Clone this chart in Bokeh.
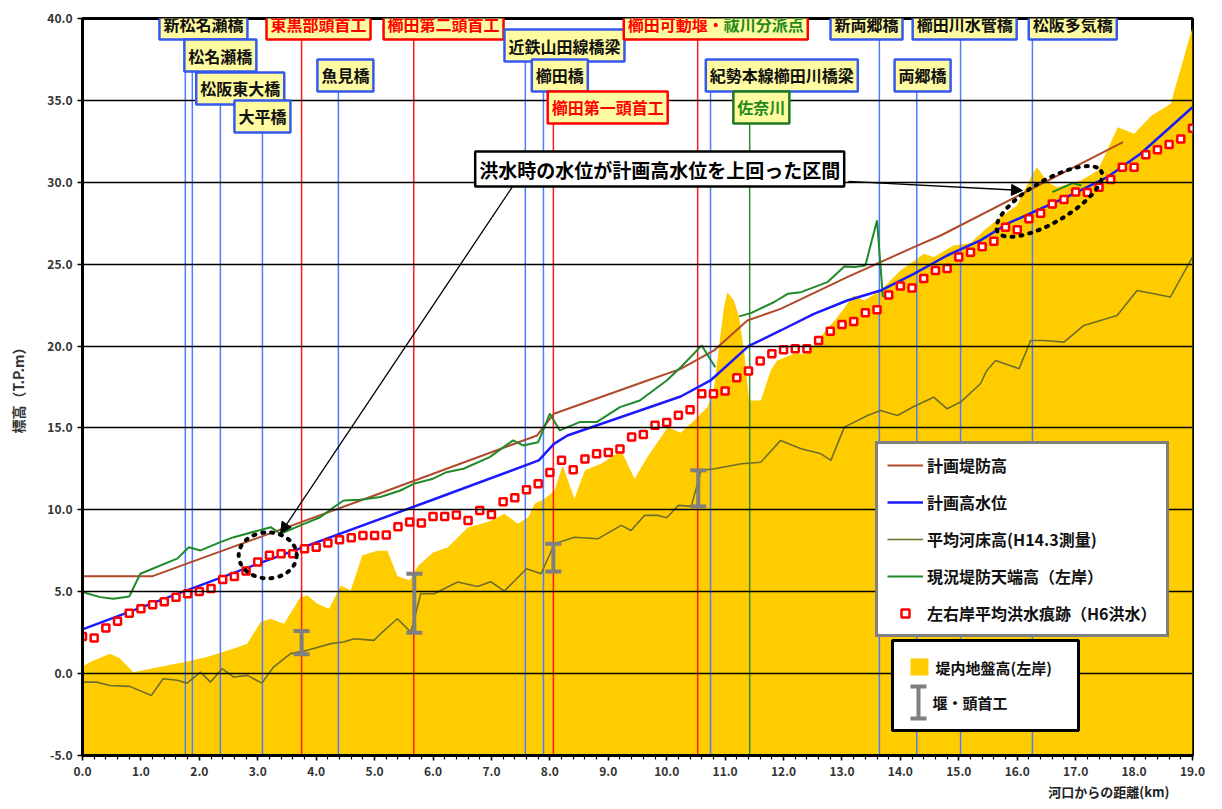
import math
from bokeh.plotting import figure
from bokeh.models import (ColumnDataSource, Label, Legend, LegendItem, Whisker, TeeHead,
                          Arrow, NormalHead, BoxAnnotation, SingleIntervalTicker,
                          PrintfTickFormatter, Title)
from bokeh.embed import file_html
from bokeh.resources import INLINE

JP = "Noto Sans CJK JP"
NAN = float("nan")

# ---------------- data ----------------
# 左右岸平均洪水痕跡 (H6洪水)
mark_km = [0.0, 0.2, 0.4, 0.6, 0.8, 1.0, 1.2, 1.4, 1.6, 1.8,
           2.0, 2.2, 2.4, 2.6, 2.8, 3.0, 3.2, 3.4, 3.6, 3.8,
           4.0, 4.2, 4.4, 4.6, 4.8, 5.0, 5.2, 5.4, 5.6, 5.8,
           6.0, 6.2, 6.4, 6.6, 6.8, 7.0, 7.2, 7.4, 7.6, 7.8,
           8.0, 8.2, 8.4, 8.6, 8.8, 9.0, 9.2, 9.4, 9.6, 9.8,
           10.0, 10.2, 10.4, 10.6, 10.8, 11.0, 11.2, 11.4, 11.6, 11.8,
           12.0, 12.2, 12.4, 12.6, 12.8, 13.0, 13.2, 13.4, 13.6, 13.8,
           14.0, 14.2, 14.4, 14.6, 14.8, 15.0, 15.2, 15.4, 15.6, 15.8,
           16.0, 16.2, 16.4, 16.6, 16.8, 17.0, 17.2, 17.4, 17.6, 17.8,
           18.0, 18.2, 18.4, 18.6, 18.8, 19.0]
mark_el = [2.27, 2.17, 2.78, 3.20, 3.69, 3.96, 4.21, 4.39, 4.67, 4.88,
           5.02, 5.20, 5.75, 5.93, 6.26, 6.81, 7.22, 7.32, 7.32, 7.62,
           7.72, 7.97, 8.17, 8.30, 8.44, 8.44, 8.47, 8.97, 9.26, 9.19,
           9.60, 9.60, 9.68, 9.35, 9.96, 9.72, 10.49, 10.74, 11.23, 11.59,
           12.28, 13.02, 12.45, 13.10, 13.42, 13.50, 13.71, 14.44, 14.60, 15.17,
           15.34, 15.78, 16.11, 17.09, 17.09, 17.25, 18.07, 18.47, 19.08, 19.53,
           19.77, 19.83, 19.83, 20.34, 20.91, 21.32, 21.50, 22.03, 22.22, 23.11,
           23.66, 23.54, 24.13, 24.62, 24.73, 25.43, 25.72, 26.07, 26.40, 27.26,
           27.10, 27.77, 28.11, 28.68, 28.95, 29.40, 29.38, 29.70, 30.17, 30.92,
           30.92, 31.68, 31.98, 32.31, 32.65, 33.30]

# 計画堤防高
levee_plan_km = [0.0, 1.20, 4.76, 7.78, 8.07, 9.67, 10.24, 10.81, 11.38, 11.95,
                 13.09, 14.23, 14.69, 17.81]
levee_plan_el = [5.95, 5.95, 10.57, 14.54, 15.87, 17.90, 18.61, 19.73, 21.56, 22.27,
                 24.21, 26.04, 26.75, 32.45]

# 計画高水位
hwl_km = [0.0, 3.0, 5.96, 7.81, 8.07, 8.30, 10.24, 10.75, 11.40, 11.95, 12.52,
          13.09, 13.66, 14.23, 14.80, 15.37, 15.83, 16.97, 17.54, 18.11, 19.0]
hwl_el = [2.70, 6.70, 10.57, 13.02, 14.03, 14.54, 16.92, 17.90, 20.00, 20.95, 21.97,
          22.78, 23.39, 24.41, 25.53, 26.45, 27.47, 29.30, 30.31, 31.74, 34.58]

# 平均河床高 (H14.3測量)
bed_km = [0.0, 0.24, 0.47, 0.81, 1.18, 1.38, 1.62, 1.79, 2.02, 2.19, 2.39, 2.59,
          2.82, 3.07, 3.27, 3.56, 3.85, 4.25, 4.47, 4.65, 4.99, 5.10, 5.39, 5.62,
          5.79, 6.02, 6.42, 6.76, 6.99, 7.22, 7.60, 7.85, 8.08, 8.42, 8.82, 9.22,
          9.39, 9.62, 9.85, 10.00, 10.20, 10.42, 10.59, 10.82, 11.28, 11.61, 11.95,
          12.30, 12.64, 12.81, 13.04, 13.44, 13.66, 13.95, 14.23, 14.57, 14.80,
          15.03, 15.37, 15.48, 15.63, 16.03, 16.23, 16.46, 16.80, 17.14, 17.71,
          18.05, 18.62, 19.00]
bed_el = [-0.52, -0.52, -0.73, -0.78, -1.33, -0.31, -0.41, -0.58, 0.09, -0.52, 0.30, -0.21,
          -0.11, -0.58, 0.40, 1.22, 1.42, 1.83, 1.93, 2.13, 2.03, 2.43, 3.35, 2.53,
          4.88, 4.88, 5.59, 5.32, 5.61, 5.04, 6.40, 6.10, 7.93, 8.33, 8.23, 9.05,
          8.74, 9.66, 9.66, 9.52, 10.27, 10.21, 12.41, 12.51, 12.81, 12.91, 14.24,
          13.73, 13.42, 13.02, 15.05, 15.76, 16.07, 15.76, 16.31, 16.88, 16.17,
          16.58, 17.70, 18.51, 19.12, 18.61, 20.34, 20.34, 20.24, 21.26, 21.87,
          23.39, 22.99, 25.43]

# 現況堤防天端高 (左岸)  -- NaN = gap in the surveyed line
levee_now_km = [0.0, 0.30, 0.53, 0.80, 0.99, 1.62, 1.82, 2.02, 2.36, 2.59, 3.22, 3.39,
                3.73, 4.07, 4.30, 4.47, 4.75, 5.10, 5.44, 5.67, 6.00, 6.23, 6.52, 6.97,
                7.37, 7.54, 7.80, 8.00, 8.17, 8.51, 8.80, 9.20, 9.54, 10.00, 10.24,
                10.60, 10.83, NAN,
                11.24, 11.44, 11.84, 12.07, 12.30, 12.75, 13.04, 13.21, 13.40, 13.60,
                13.70, NAN,
                16.60, 16.95, 17.10]
levee_now_el = [4.98, 4.67, 4.57, 4.71, 6.10, 7.02, 7.72, 7.52, 8.03, 8.33, 8.94, 8.54,
                9.05, 9.55, 10.16, 10.57, 10.62, 10.78, 11.18, 11.59, 11.90, 12.30, 12.51, 13.22,
                14.24, 13.93, 14.13, 15.87, 14.85, 15.36, 15.36, 16.27, 16.68, 17.90, 18.71,
                20.04, 18.71, NAN,
                21.81, 22.01, 22.69, 23.19, 23.29, 23.90, 24.86, 24.82, 24.92, 27.67,
                22.99, NAN,
                29.40, 29.95, 29.80]

# 堤内地盤高 (左岸)
ground_km = [0.0, 0.12, 0.47, 0.64, 0.87, 1.16, 1.73, 2.13, 2.59, 2.82, 3.05, 3.22,
             3.45, 3.73, 3.85, 4.02, 4.22, 4.42, 4.59, 4.79, 5.05, 5.22, 5.39, 5.60,
             5.75, 6.00, 6.25, 6.60, 6.83, 7.00, 7.22, 7.45, 7.63, 7.74, 7.91, 8.08,
             8.22, 8.42, 8.60, 8.88, 9.22, 9.45, 9.67, 10.02, 10.24, 10.47, 10.70,
             10.81, 10.98, 11.04, 11.15, 11.24, 11.33, 11.41, 11.61, 11.78, 11.89,
             12.18, 12.40, 12.63, 12.92, 13.20, 13.38, 13.66, 14.00, 14.40, 14.57,
             14.91, 15.20, 15.43, 15.71, 16.00, 16.26, 16.34, 16.52, 16.69, 17.09,
             17.38, 17.72, 18.00, 18.30, 18.63, 18.69, 19.00]
ground_el = [0.40, 0.70, 1.22, 0.94, 0.09, 0.30, 0.70, 1.01, 1.53, 1.83, 3.15, 3.35,
             3.05, 4.67, 4.77, 4.27, 3.96, 5.38, 5.08, 7.22, 7.50, 7.50, 5.95, 5.70,
             6.60, 7.40, 7.70, 8.94, 9.15, 9.35, 9.76, 9.15, 9.55, 10.37, 10.68, 11.18,
             12.71, 10.68, 12.41, 12.81, 13.63, 11.90, 13.22, 15.05, 14.70, 15.46, 16.30,
             17.49, 22.39, 23.29, 22.78, 21.76, 19.53, 16.68, 16.68, 18.51, 19.12,
             19.53, 19.53, 20.55, 21.76, 23.09, 22.78, 23.39, 24.62, 25.63, 25.43,
             26.14, 26.30, 27.06, 27.87, 28.60, 30.50, 30.92, 30.00, 29.70, 30.11,
             30.72, 33.36, 32.96, 34.08, 34.79, 35.60, 39.47]

# 堰・頭首工
weir_km = [3.75, 5.68, 8.06, 10.54]
weir_low = [1.18, 2.50, 6.24, 10.21]
weir_high = [2.60, 6.10, 7.93, 12.41]

# 横断構造物・地点
landmark_names = ["新松名瀬橋", "松名瀬橋", "松阪東大橋", "大平橋", "東黒部頭首工", "魚見橋",
                  "櫛田第二頭首工", "近鉄山田線橋梁", "櫛田橋", "櫛田第一頭首工",
                  "櫛田可動堰・祓川分派点", "紀勢本線櫛田川橋梁", "佐奈川", "新両郷橋",
                  "両郷橋", "櫛田川水管橋", "松阪多気橋"]
landmark_km = [1.76, 1.88, 2.36, 3.08, 3.75, 4.38, 5.67, 7.58, 7.89, 8.06,
               10.53, 10.75, 11.42, 13.64, 14.28, 15.03, 16.26]
landmark_kind = ["bridge", "bridge", "bridge", "bridge", "weir", "bridge",
                 "weir", "bridge", "bridge", "weir",
                 "weir", "bridge", "river", "bridge",
                 "bridge", "bridge", "bridge"]

x_ticks_interval = 1.0
y_ticks_interval = 5.0
X_MIN, X_MAX = 0.0, 19.0
Y_MIN, Y_MAX = -5.0, 40.0

# ---------------- layout (label box centres, km / m) ----------------
label_x = [2.07, 2.36, 2.70, 3.08, 4.04, 4.50, 6.18, 8.25, 8.17, 8.99,
           10.84, 11.97, 11.62, 13.42, 14.38, 15.10, 16.95]
label_y = [39.69, 37.74, 35.73, 34.02, 39.69, 36.52, 39.69, 38.35, 36.52, 34.57,
           39.69, 36.52, 34.57, 39.69, 36.52, 39.69, 39.69]

KIND_STYLE = {
    "bridge": dict(line="#4F7DFF", border="#3558F0", text="#111111"),
    "weir": dict(line="#FF1A1A", border="#FF0000", text="#FF0000"),
    "river": dict(line="#2E8B2E", border="#1E7A1E", text="#1E8A1E"),
}
BOX_FILL = "#FFFBA0"
YELLOW = "#FFCC00"
GRAY = "#7F7F7F"

p = figure(x_range=(X_MIN, X_MAX), y_range=(Y_MIN, Y_MAX),
           width=1218, height=805,
           min_border_left=82, min_border_right=26, min_border_top=18, min_border_bottom=50,
           output_backend="svg", toolbar_location=None,
           background_fill_color="white", border_fill_color="white")

p.outline_line_color = "black"
p.outline_line_width = 3
p.xgrid.visible = False
p.ygrid.grid_line_color = "black"
p.ygrid.grid_line_width = 1.6
p.ygrid.level = "glyph"

# axes
p.xaxis.ticker = SingleIntervalTicker(interval=x_ticks_interval, num_minor_ticks=5)
p.yaxis.ticker = SingleIntervalTicker(interval=y_ticks_interval, num_minor_ticks=0)
for ax in (p.xaxis[0], p.yaxis[0]):
    ax.formatter = PrintfTickFormatter(format="%.1f")
    ax.axis_line_color = "black"
    ax.axis_line_width = 3
    ax.major_tick_line_color = "black"
    ax.major_tick_line_width = 1.5
    ax.major_tick_out = 5
    ax.major_tick_in = 0
    ax.minor_tick_line_color = "black"
    ax.minor_tick_line_width = 1.2
    ax.minor_tick_out = 4
    ax.minor_tick_in = 0
    ax.major_label_text_font = JP
    ax.major_label_text_font_style = "bold"
    ax.major_label_text_font_size = "12px"
    ax.major_label_text_color = "#333333"
p.xaxis.major_label_standoff = 6
p.yaxis.major_label_standoff = 5
p.yaxis.axis_label = "標高（T.P.m）"
p.yaxis.axis_label_text_font = JP
p.yaxis.axis_label_text_font_style = "bold"
p.yaxis.axis_label_text_font_size = "14px"
p.yaxis.axis_label_text_color = "#333333"
p.yaxis.axis_label_standoff = 16

# x-axis title: a right-aligned title under the axis, as in the source
p.add_layout(Title(text="河口からの距離(km)", align="right", offset=23, standoff=2,
                   text_font=JP, text_font_style="bold", text_font_size="13px",
                   text_color="#222222"), "below")

# ground area
ground = p.varea(x=ground_km, y1=Y_MIN, y2=ground_el, fill_color=YELLOW, fill_alpha=1.0,
                 level="underlay")

# landmark vertical lines
for name, km, kind, ly in zip(landmark_names, landmark_km, landmark_kind, label_y):
    p.segment(x0=[km], y0=[Y_MIN], x1=[km], y1=[ly],
              line_color=KIND_STYLE[kind]["line"], line_width=1.5)

r_plan = p.line(levee_plan_km, levee_plan_el, line_color="#B04A2A", line_width=2)
r_now = p.line(levee_now_km, levee_now_el, line_color="#1F8A2A", line_width=2)
r_bed = p.line(bed_km, bed_el, line_color="#6E6E2A", line_width=1.6)
r_hwl = p.line(hwl_km, hwl_el, line_color="#1A1AFF", line_width=2.5)

# weirs
weir_src = ColumnDataSource(dict(base=weir_km, lower=weir_low, upper=weir_high))
p.add_layout(Whisker(source=weir_src, base="base", lower="lower", upper="upper",
                     dimension="height", line_color=GRAY, line_width=4, level="annotation",
                     upper_head=TeeHead(size=16, line_color=GRAY, line_width=4),
                     lower_head=TeeHead(size=16, line_color=GRAY, line_width=4)))

r_mark = p.scatter(mark_km, mark_el, marker="square", size=7, fill_color="white",
                   line_color="#FF0000", line_width=2.5)

# dotted ellipses marking the exceedance sections
p.ellipse(x=[3.17], y=[7.22], width=58, height=46, width_units="screen",
          height_units="screen", fill_alpha=0, line_color="black", line_width=4,
          line_dash="2 7", line_cap="round")
p.ellipse(x=[16.55], y=[28.83], width=120, height=42, angle=0.53, width_units="screen",
          height_units="screen", fill_alpha=0, line_color="black", line_width=4,
          line_dash="2 7", line_cap="round")

# callout
p.add_layout(Arrow(x_start=7.41, y_start=30.0, x_end=3.39, y_end=8.56, line_width=1.3,
                   end=NormalHead(size=11, fill_color="black", line_color="black")))
p.add_layout(Arrow(x_start=13.11, y_start=30.05, x_end=16.09, y_end=29.5, line_width=1.3,
                   end=NormalHead(size=11, fill_color="black", line_color="black")))
p.add_layout(Label(x=9.88, y=30.81, text="洪水時の水位が計画高水位を上回った区間",
                   text_align="center", text_baseline="middle", text_font=JP,
                   text_font_style="bold", text_font_size="19px", text_color="black",
                   background_fill_color="white", border_line_color="black",
                   border_line_width=2.5, padding=4))

# landmark labels
FS = 16
for name, kind, lx, ly in zip(landmark_names, landmark_kind, label_x, label_y):
    st = KIND_STYLE[kind]
    if "・" in name and kind == "weir":
        first, second = name.split("・")
        first = first + "・"
        half = len(name) * FS / 2
        # box (text painted in the fill colour so only the frame shows)
        p.add_layout(Label(x=lx, y=ly, text=name, text_align="center", text_baseline="middle",
                           text_font=JP, text_font_style="bold", text_font_size=f"{FS}px",
                           text_color=BOX_FILL, background_fill_color=BOX_FILL,
                           border_line_color=st["border"], border_line_width=2.5, padding=4))
        p.add_layout(Label(x=lx, y=ly, x_offset=-half, text=first, text_align="left",
                           text_baseline="middle", text_font=JP, text_font_style="bold",
                           text_font_size=f"{FS}px", text_color="#FF0000"))
        p.add_layout(Label(x=lx, y=ly, x_offset=-half + len(first) * FS, text=second,
                           text_align="left", text_baseline="middle", text_font=JP,
                           text_font_style="bold", text_font_size=f"{FS}px",
                           text_color="#1E8A1E"))
    else:
        p.add_layout(Label(x=lx, y=ly, text=name, text_align="center", text_baseline="middle",
                           text_font=JP, text_font_style="bold", text_font_size=f"{FS}px",
                           text_color=st["text"], background_fill_color=BOX_FILL,
                           border_line_color=st["border"], border_line_width=2.5, padding=4))

# legend 1
legend = Legend(items=[
    LegendItem(label="計画堤防高", renderers=[r_plan]),
    LegendItem(label="計画高水位", renderers=[r_hwl]),
    LegendItem(label="平均河床高(H14.3測量)", renderers=[r_bed]),
    LegendItem(label="現況堤防天端高（左岸）", renderers=[r_now]),
    LegendItem(label="左右岸平均洪水痕跡（H6洪水）", renderers=[r_mark]),
], location=(793, 118), orientation="vertical",
    label_text_font=JP, label_text_font_style="bold", label_text_font_size="16px",
    label_text_color="#111111", glyph_width=36, glyph_height=20, label_height=20,
    label_standoff=4, padding=9, spacing=13, margin=0,
    border_line_color="black", border_line_width=3,
    background_fill_color="white", background_fill_alpha=1.0)
p.add_layout(legend)

# legend 2 (drawn by hand: ground swatch + weir symbol), frame-relative screen units
L2 = dict(left=810, right=996, bottom=25, top=115)
scr = dict(left_units="screen", right_units="screen", top_units="screen", bottom_units="screen")
p.add_layout(BoxAnnotation(**L2, **scr, fill_color="white", fill_alpha=1.0,
                           line_color="black", line_width=3, line_alpha=1.0))
p.add_layout(BoxAnnotation(left=L2["left"] + 18, right=L2["left"] + 36,
                           bottom=L2["top"] - 35, top=L2["top"] - 18, **scr,
                           fill_color=YELLOW, fill_alpha=1.0, line_alpha=0))
sw_src = ColumnDataSource(dict(b=[L2["left"] + 26], lo=[L2["top"] - 78], hi=[L2["top"] - 46]))
p.add_layout(Whisker(source=sw_src, base="b", lower="lo", upper="hi", base_units="screen",
                     lower_units="screen", upper_units="screen", dimension="height",
                     line_color=GRAY, line_width=4, level="annotation",
                     upper_head=TeeHead(size=16, line_color=GRAY, line_width=4),
                     lower_head=TeeHead(size=16, line_color=GRAY, line_width=4)))
p.add_layout(Label(x=L2["left"] + 43, y=L2["top"] - 27, x_units="screen", y_units="screen",
                   text="堤内地盤高(左岸)", text_baseline="middle", text_font=JP,
                   text_font_style="bold", text_font_size="15px", text_color="#111111"))
p.add_layout(Label(x=L2["left"] + 40, y=L2["top"] - 62, x_units="screen", y_units="screen",
                   text="堰・頭首工", text_baseline="middle", text_font=JP,
                   text_font_style="bold", text_font_size="15px", text_color="#111111"))

# figure caption (only its top shows at the bottom edge, as in the source page)
p.add_layout(Label(x=8.87, y=Y_MIN, y_offset=-38, text="図 3.1.3(1)　平成6年9月洪水の痕跡水位縦断図（左岸）",
                   text_align="center", text_baseline="top", text_font=JP,
                   text_font_size="20px", text_color="#222222"))

open("out.html", "w").write(file_html(p, INLINE))
